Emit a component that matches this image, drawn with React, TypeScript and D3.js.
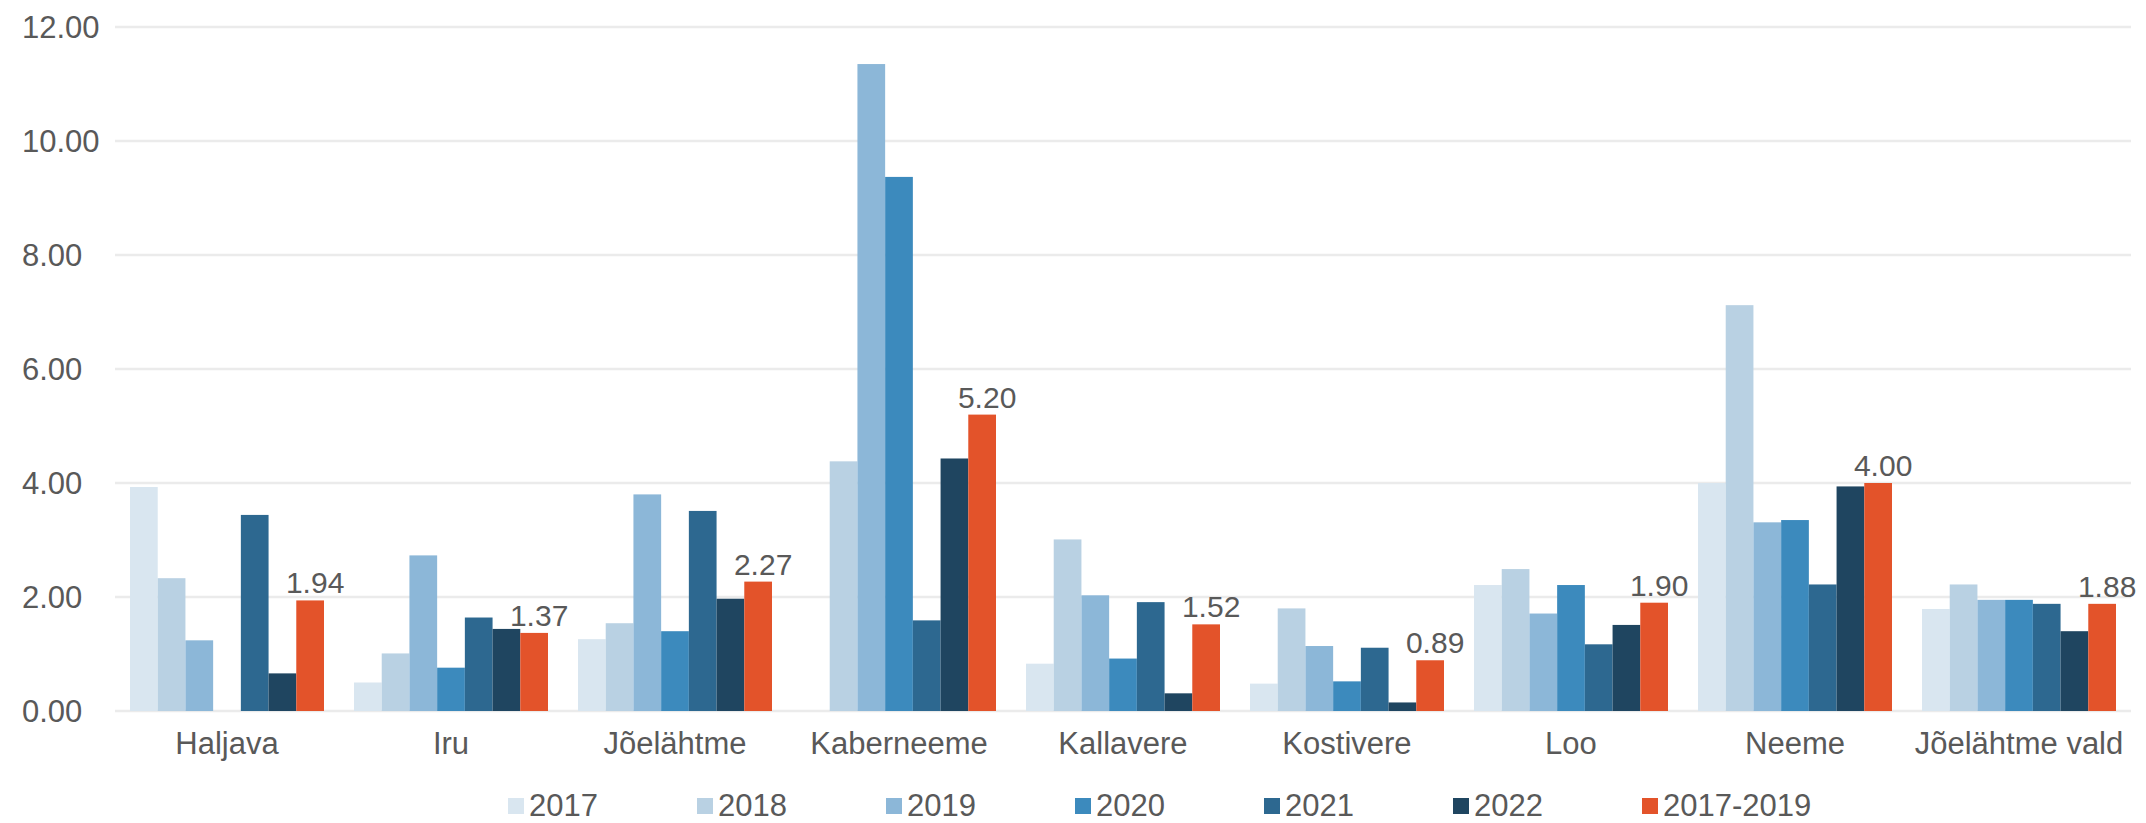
import React from 'react';
import * as d3 from 'd3';

const categories = ['Haljava', 'Iru', 'Jõelähtme', 'Kaberneeme', 'Kallavere', 'Kostivere', 'Loo', 'Neeme', 'Jõelähtme vald'];
const seriesNames = ['2017', '2018', '2019', '2020', '2021', '2022', '2017-2019'];

const v2017 = [3.93, 0.5, 1.26, null, 0.83, 0.48, 2.21, 4.0, 1.79];
const v2018 = [2.33, 1.01, 1.54, 4.38, 3.01, 1.8, 2.49, 7.12, 2.22];
const v2019 = [1.24, 2.73, 3.8, 11.35, 2.03, 1.14, 1.71, 3.31, 1.95];
const v2020 = [null, 0.76, 1.4, 9.37, 0.92, 0.52, 2.21, 3.35, 1.95];
const v2021 = [3.44, 1.64, 3.51, 1.59, 1.91, 1.11, 1.17, 2.22, 1.88];
const v2022 = [0.66, 1.44, 1.97, 4.43, 0.31, 0.15, 1.51, 3.94, 1.4];
const vAvg = [1.94, 1.37, 2.27, 5.2, 1.52, 0.89, 1.9, 4.0, 1.88];

const yTicks = [0, 2, 4, 6, 8, 10, 12];

const colors = ['#d9e6f0', '#b9d1e3', '#8cb7d8', '#3c8abd', '#2d6890', '#1f4560', '#e3532a'];

const W = 2146;
const H = 823;
const font = '"Liberation Sans", Arial, sans-serif';
const textColor = '#595959';

export default function App() {
  const values = [v2017, v2018, v2019, v2020, v2021, v2022, vAvg];

  const x = d3.scaleBand<string>()
    .domain(categories)
    .range([115, 2131])
    .paddingInner(0.134)
    .paddingOuter(0.067);

  const xInner = d3.scaleBand<string>()
    .domain(seriesNames)
    .range([0, x.bandwidth()]);

  const y = d3.scaleLinear().domain([0, 12]).range([711, 27]);

  const fmt = d3.format('.2f');

  // legend layout
  const legendX = d3.scaleBand<string>().domain(seriesNames).range([508, 508 + 189 * 7]);

  return (
    <div style={{ position: 'absolute', left: 0, top: 0 }}>
      <svg width={W} height={H} style={{ display: 'block', background: '#fff' }}>
        {/* grid */}
        {yTicks.map((t) => (
          <g key={t}>
            <line x1={115} x2={2131} y1={y(t)} y2={y(t)} stroke="#ebebeb" strokeWidth={2.5} />
            <text x={22} y={y(t)} dy="0.35em" fontFamily={font} fontSize={31} fill={textColor}>
              {fmt(t)}
            </text>
          </g>
        ))}

        {/* bars */}
        {categories.map((c, i) => (
          <g key={c} transform={`translate(${x(c)},0)`}>
            {seriesNames.map((s, j) => {
              const v = values[j][i];
              if (v == null) return null;
              return (
                <rect
                  key={s}
                  x={xInner(s)}
                  y={y(v)}
                  width={xInner.bandwidth()}
                  height={y(0) - y(v)}
                  fill={colors[j]}
                />
              );
            })}
            <text
              x={(xInner('2017-2019') ?? 0) + xInner.bandwidth() / 2 + 5}
              y={y(vAvg[i]) - 7}
              textAnchor="middle"
              fontFamily={font}
              fontSize={30}
              fill={textColor}
            >
              {fmt(vAvg[i])}
            </text>
            <text
              x={x.bandwidth() / 2}
              y={754}
              textAnchor="middle"
              fontFamily={font}
              fontSize={31}
              fill={textColor}
            >
              {c}
            </text>
          </g>
        ))}

        {/* legend */}
        {seriesNames.map((s, j) => (
          <g key={s} transform={`translate(${legendX(s)},0)`}>
            <rect x={0} y={798} width={16} height={16} fill={colors[j]} />
            <text x={21} y={816} fontFamily={font} fontSize={31} fill={textColor}>
              {s}
            </text>
          </g>
        ))}
      </svg>
    </div>
  );
}
